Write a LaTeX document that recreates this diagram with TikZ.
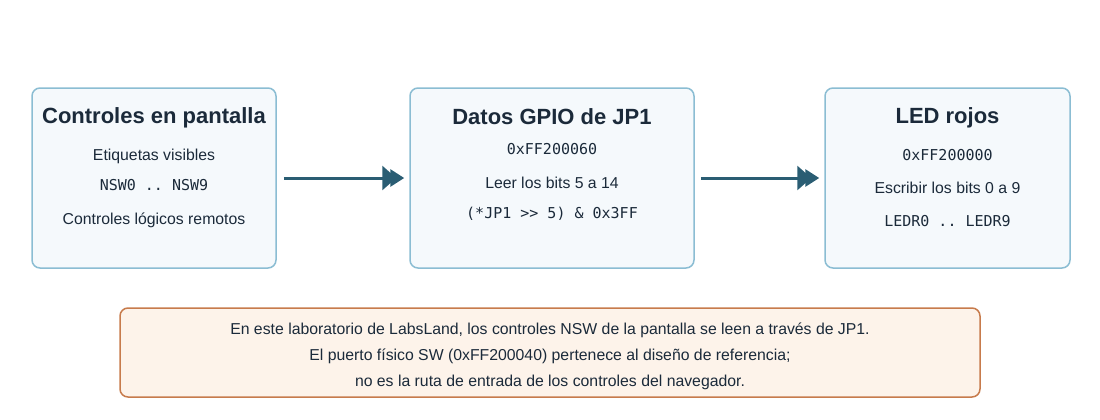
\documentclass[tikz,border=0pt]{standalone}
\usepackage{fontspec}
\setmainfont{Liberation Sans}
\setmonofont{DejaVu Sans Mono}
\usetikzlibrary{arrows.meta}
\definecolor{boxfill}{HTML}{F5F9FC}
\definecolor{boxline}{HTML}{8BBDD3}
\definecolor{arrowc}{HTML}{2A5D73}
\definecolor{txt}{HTML}{1B2A3A}
\definecolor{notefill}{HTML}{FDF3EA}
\definecolor{noteline}{HTML}{C77B4C}
\tikzset{
  card/.style={draw=boxline, fill=boxfill, line width=1.5pt, rounded corners=8pt, inner sep=0pt},
  notebox/.style={draw=noteline, fill=notefill, line width=1.5pt, rounded corners=8pt, inner sep=0pt},
  ttl/.style={text=txt, font=\fontsize{22}{26}\selectfont\bfseries, inner sep=0pt},
  body/.style={text=txt, font=\fontsize{15.8}{18}\selectfont, inner sep=0pt},
  code/.style={text=txt, font=\fontsize{15}{18}\ttfamily, inner sep=0pt},
  flow/.style={draw=arrowc, line width=3pt, -{Triangle[length=14pt,width=24pt,sep=-6pt]Triangle[length=14pt,width=17pt]}},
}
\begin{document}
\begin{tikzpicture}[x=1pt,y=-1pt]
\useasboundingbox (0,0) rectangle (1100,420);
\node[card, minimum width=244pt, minimum height=180pt] (b1) at (154,178) {};
\node[card, minimum width=284pt, minimum height=180pt] (b2) at (552,178) {};
\node[card, minimum width=245pt, minimum height=180pt] (b3) at (947.5,178) {};
\node[notebox, minimum width=860pt, minimum height=89pt] (nb) at (550,352.5) {};

\node[ttl] (t1) at (154,118) {Controles en pantalla};
\node[body] (a1) at (154,156) {Etiquetas visibles};
\node[code] (c1) at (154,185) {NSW0 .. NSW9};
\node[body] (d1) at (154,220) {Controles lógicos remotos};

\node[ttl] (t2) at (552,117) {Datos GPIO de JP1};
\node[code] (a2) at (552,149) {0xFF200060};
\node[body] (c2) at (552,183) {Leer los bits 5 a 14};
\node[code] (d2) at (552,214) {(*JP1 >> 5) \& 0x3FF};

\node[ttl] (t3) at (947.5,118) {LED rojos};
\node[code] (a3) at (947.5,155) {0xFF200000};
\node[body] (c3) at (947.5,188) {Escribir los bits 0 a 9};
\node[code] (d3) at (947.5,221) {LEDR0 .. LEDR9};

\node[body] (n1) at (550,330) {En este laboratorio de LabsLand, los controles NSW de la pantalla se leen a través de JP1.};
\node[body] (n2) at (550,356) {El puerto físico SW (0xFF200040) pertenece al diseño de referencia;};
\node[body] (n3) at (550,382) {no es la ruta de entrada de los controles del navegador.};

\draw[flow, shorten <=7pt, shorten >=5pt] (b1.east) -- (b2.west);
\draw[flow, shorten <=6pt, shorten >=5pt] (b2.east) -- (b3.west);
\end{tikzpicture}
\end{document}
